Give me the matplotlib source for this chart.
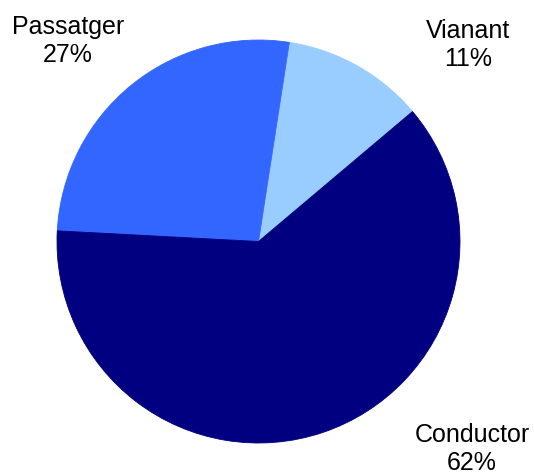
import matplotlib
matplotlib.use("Agg")
import matplotlib.pyplot as plt

categories = ["Vianant", "Passatger", "Conductor"]
values = [11.4, 26.6, 62.0]
pct_labels = ["11%", "27%", "62%"]
colors = ["#99CCFF", "#3366FF", "#000080"]

W, H = 534, 476
fig = plt.figure(figsize=(W / 100, H / 100), dpi=100)
cx, cy, r = 258.5, 241.5, 201.5
ax = fig.add_axes([(cx - r) / W, (H - cy - r) / H, 2 * r / W, 2 * r / H])
wedges, _ = ax.pie(values, colors=colors, startangle=40.16, counterclock=True,
                   radius=1.0, wedgeprops=dict(linewidth=0.6, edgecolor=None))
for w, c in zip(wedges, colors):
    w.set_edgecolor(c)
ax.set_xlim(-1, 1)
ax.set_ylim(-1, 1)
ax.set_aspect("equal")
ax.axis("off")

label_pos = {"Vianant": (468, 45), "Passatger": (68, 41), "Conductor": (472, 449)}
for cat, pl in zip(categories, pct_labels):
    x, y = label_pos[cat]
    fig.text(x / W, 1 - y / H, f"{cat}\n{pl}", ha="center", va="center",
             fontsize=18, family=["Liberation Sans", "DejaVu Sans"], linespacing=1.2,
             color="black")

fig.savefig("out.png", dpi=100)
